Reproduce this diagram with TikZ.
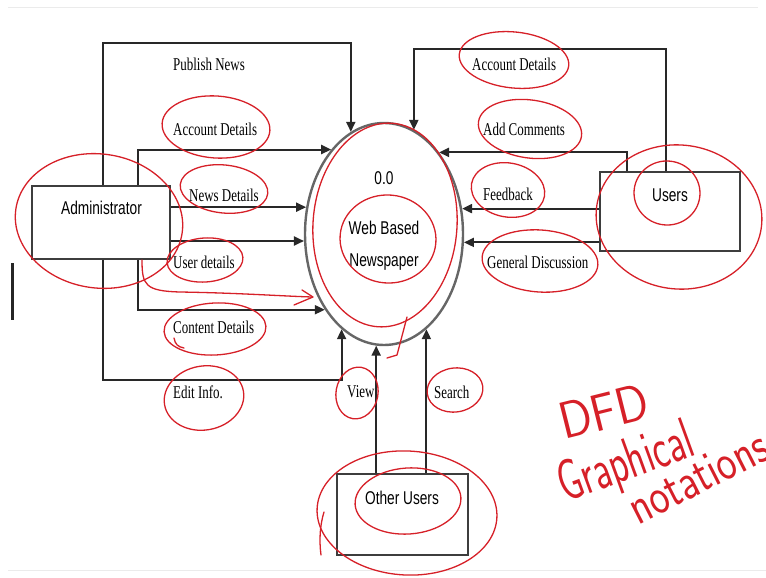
\documentclass[tikz,border=0pt]{standalone}
\usepackage{fontspec}
\setmainfont{Liberation Serif}[FakeStretch=0.72]
\newfontfamily\boxfont{Liberation Sans}[FakeStretch=0.74]
\usetikzlibrary{arrows.meta,shapes.geometric}
\definecolor{ink}{RGB}{40,40,40}
\definecolor{pen}{RGB}{214,32,40}
\begin{document}
\begin{tikzpicture}[x=1pt,y=-1pt,
  flow/.style={draw=ink,line width=2pt,-{Triangle[length=10pt,width=9pt]}},
  entity/.style={draw=ink!90,line width=1.6pt,rectangle,inner sep=0pt},
  proc/.style={draw=black!60,line width=2.4pt,ellipse,inner sep=0pt,
    minimum width=158pt,minimum height=222pt},
  boxtext/.style={font=\boxfont\fontsize{18.5}{22}\selectfont,inner sep=0pt,text depth=0pt},
  lbl/.style={font=\fontsize{18}{20}\selectfont,inner sep=0pt,anchor=west,text depth=0pt},
  pen/.style={draw=pen,line width=1.3pt,line cap=round,line join=round},
  hand/.style={text=pen,inner sep=0pt,anchor=base west,font=\sffamily}]

\useasboundingbox (0,0) rectangle (766,578);

% page edge marks
\draw[black!8,line width=1pt] (8,8) -- (758,8);
\draw[black!8,line width=1pt] (8,570) -- (766,570);
\fill[black!85] (11,263) rectangle (14,320);

% external entities
\node[entity,minimum width=138pt,minimum height=73pt] (admin) at (101,222.5) {};
\node[boxtext] (admintext) at (101.5,208) {Administrator};
\node[entity,minimum width=140pt,minimum height=79pt] (users) at (670,211.5) {};
\node[boxtext] (userstext) at (670,195) {Users};
\node[entity,minimum width=131pt,minimum height=81pt] (other) at (402.5,514.5) {};
\node[boxtext] (othertext) at (402,497.5) {Other Users};

% process
\node[proc] (proc) at (384,234) {};
\node[boxtext] (pid) at (384,178) {0.0};
\node[boxtext] (pname) at (384,228) {Web Based};
\node[boxtext] (pname2) at (384,260) {Newspaper};

% data flows from the administrator
\draw[flow] ([xshift=2pt]admin.north) -- ++(0,-142) -| (proc.108.1);
\draw[flow] ([xshift=37pt]admin.north) |- (proc.122.9);
\draw[flow] (admin.east |- proc.161.3) -- (proc.161.3);
\draw[flow] (admin.east |- proc.185.8) -- (proc.185.8);
\draw[flow] ([xshift=37pt]admin.south) |- (proc.232.2);
\draw[flow] ([xshift=2pt]admin.south) -- ++(0,120) -| (proc.246.6);

% data flows from the users
\draw[flow] ([xshift=-4pt]users.north) -- ++(0,-122) -| (proc.74.9);
\draw[flow] ([xshift=-43pt]users.north) |- (proc.56.3);
\draw[flow] (users.west |- proc.18.7) -- (proc.18.7);
\draw[flow] (users.west |- proc.354.2) -- (proc.354.2);

% data flows from other users
\draw[flow] (other.north -| proc.266.4) -- (proc.266.4);
\draw[flow] (other.north -| proc.294.1) -- (proc.294.1);

% flow labels
\node[lbl] (l1) at (173,64) {Publish News};
\node[lbl] (l2) at (173,129) {Account Details};
\node[lbl] (l3) at (189,195) {News Details};
\node[lbl] (l4) at (173,262) {User details};
\node[lbl] (l5) at (173,327) {Content Details};
\node[lbl] (l6) at (173,392) {Edit Info.};
\node[lbl] (l7) at (347,392) {View};
\node[lbl] (l8) at (434,392) {Search};
\node[lbl] (r1) at (472,64) {Account Details};
\node[lbl] (r2) at (483,129) {Add Comments};
\node[lbl] (r3) at (483,194) {Feedback};
\node[lbl] (r4) at (487,262) {General Discussion};

% pen annotations
\draw[pen,shift={(216,127)},rotate=-4] (0,0) ellipse [x radius=54pt,y radius=31pt];
\draw[pen,shift={(224,189)},rotate=-6] (0,0) ellipse [x radius=44pt,y radius=24pt];
\draw[pen,shift={(99,221)},rotate=-8] (0,0) ellipse [x radius=84pt,y radius=67pt];
\draw[pen,shift={(205,260)},rotate=4] (0,0) ellipse [x radius=38pt,y radius=22pt];
\draw[pen] (142,260) .. controls (142,285) and (145,291) .. (180,292)
  .. controls (240,293) and (280,296) .. (312,297);
\draw[pen] (302,290) -- (313,297) -- (294,305);
\draw[pen,shift={(215,329)},rotate=3] (0,0) ellipse [x radius=51pt,y radius=26pt];
\draw[pen] (174,338) .. controls (175,344) and (178,347) .. (184,348);
\draw[pen,shift={(204,398)},rotate=10] (0,0) ellipse [x radius=40pt,y radius=32pt];
\draw[pen,shift={(357,393)},rotate=-10] (0,0) ellipse [x radius=21pt,y radius=26pt];
\draw[pen,shift={(455,390)},rotate=8] (0,0) ellipse [x radius=28pt,y radius=22pt];
\draw[pen,shift={(408,501)},rotate=4] (0,0) ellipse [x radius=53pt,y radius=33pt];
\draw[pen,shift={(407,513)},rotate=-3] (0,0) ellipse [x radius=90pt,y radius=62pt];
\draw[pen] (324,512) .. controls (320,525) and (319,540) .. (321,555);
\draw[pen,shift={(385,225)},rotate=-4] (0,0) ellipse [x radius=72pt,y radius=102pt];
\draw[pen] (407,317) -- (397,355) -- (387,358);
\draw[pen,shift={(388,239)},rotate=-5] (0,0) ellipse [x radius=48pt,y radius=44pt];
\draw[pen,shift={(514,60)},rotate=-6] (0,0) ellipse [x radius=55pt,y radius=28pt];
\draw[pen,shift={(530,129)},rotate=-8] (0,0) ellipse [x radius=52pt,y radius=29pt];
\draw[pen,shift={(508,190)},rotate=-10] (0,0) ellipse [x radius=37pt,y radius=27pt];
\draw[pen,shift={(667,193)},rotate=-6] (0,0) ellipse [x radius=33pt,y radius=32pt];
\draw[pen,shift={(679,217)},rotate=-6] (0,0) ellipse [x radius=83pt,y radius=72pt];
\draw[pen,shift={(540,261)},rotate=-4] (0,0) ellipse [x radius=58pt,y radius=31pt];

% handwritten note
\node[hand,rotate=14] (dfd) at (564,440) {\fontsize{52}{56}\selectfont\scalebox{0.92}[1]{DFD}};
\node[hand,rotate=20] (graph) at (565,503) {\fontsize{58}{60}\selectfont\scalebox{0.66}[1]{Graphical}};
\node[hand,rotate=27] (notes) at (638,526) {\fontsize{52}{56}\selectfont\scalebox{0.8}[1]{notations}};
\end{tikzpicture}
\end{document}
